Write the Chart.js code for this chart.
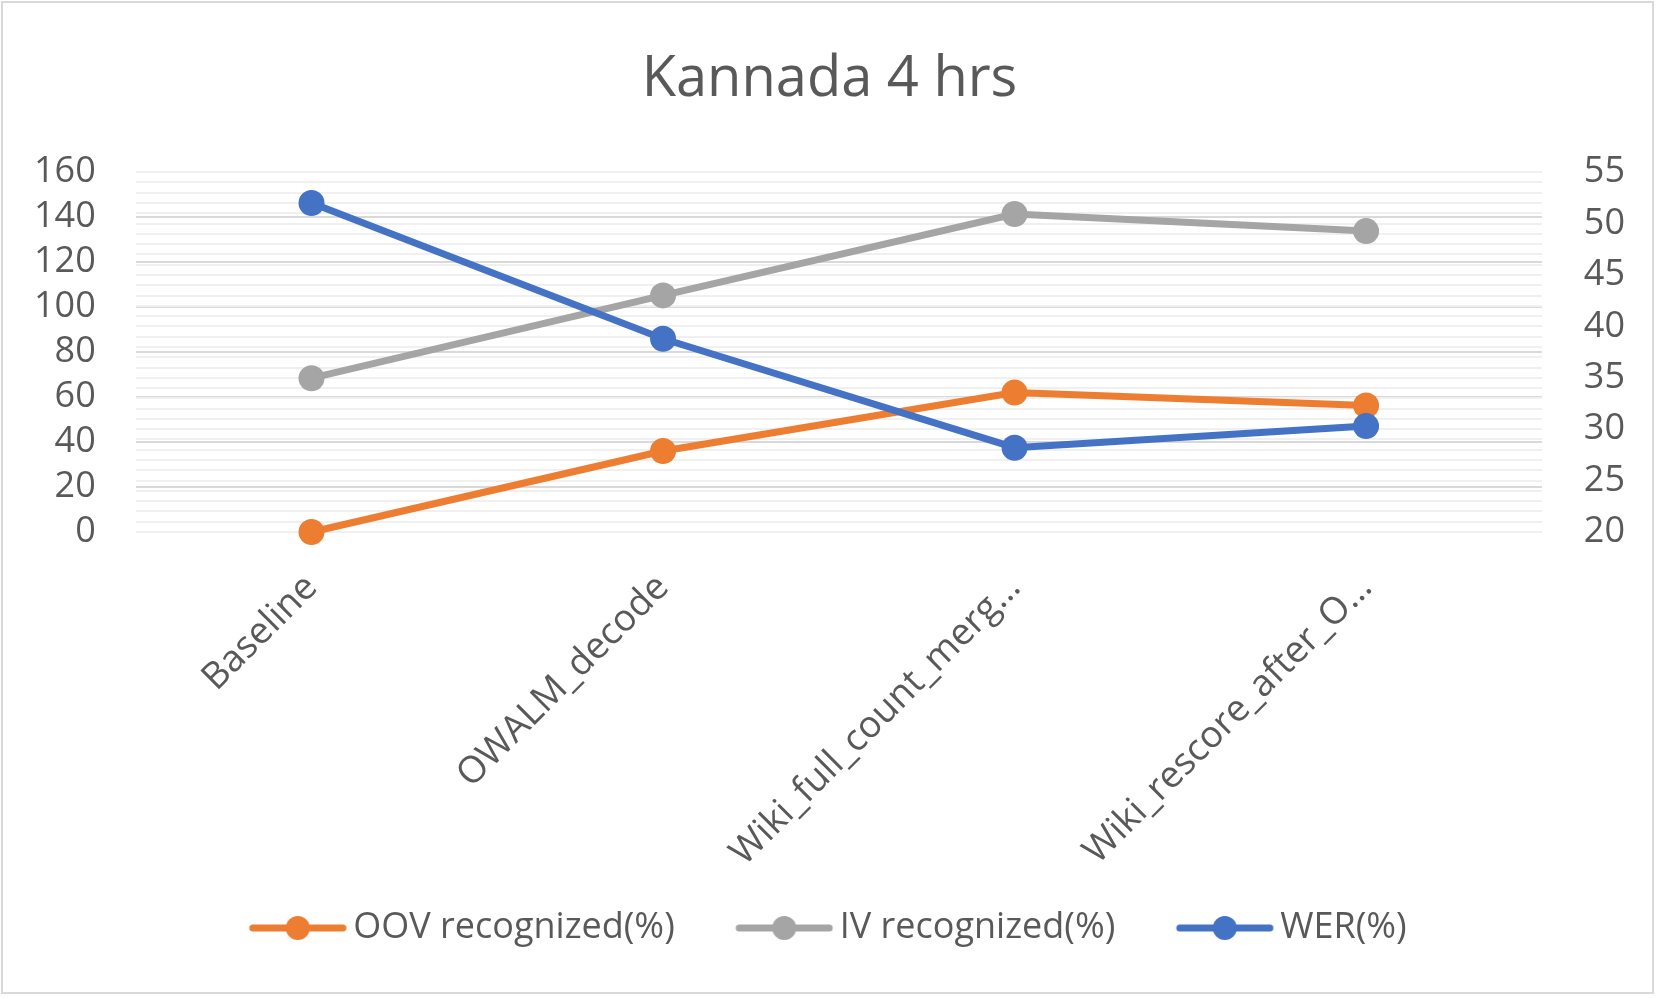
<!DOCTYPE html>
<html>
<head>
<meta charset="utf-8">
<script src="https://cdn.jsdelivr.net/npm/chart.js@4.4.1/dist/chart.umd.min.js"></script>
<style>
  html, body { margin: 0; padding: 0; background: #fff; }
  #box {
    position: absolute; left: 1px; top: 1px;
    width: 1649px; height: 989px;
    border: 2px solid #d9d9d9;
  }
</style>
</head>
<body>
<div id="box"><canvas id="chart"></canvas></div>
<script>
const categories = ["Baseline", "OWALM_decode", "Wiki_full_count_merg\u2026", "Wiki_rescore_after_O\u2026"];
const oovRecognized = [0, 36, 62, 56.3];
const ivRecognized = [68.4, 105.2, 141.4, 133.8];
const wer = [52, 38.8, 28.2, 30.3];
const leftTicks = [0, 20, 40, 60, 80, 100, 120, 140, 160];
const rightTicks = [20, 25, 30, 35, 40, 45, 50, 55];

const textColor = "#595959";
const font = "'Open Sans', sans-serif";

// legend symbol: short line with a dot, shifted right inside the image
// so the gap to the label text stays small
function legendSymbol(color) {
  const c = document.createElement("canvas");
  c.width = 130;
  c.height = 28;
  const g = c.getContext("2d");
  g.strokeStyle = color;
  g.lineWidth = 7;
  g.lineCap = "round";
  g.beginPath();
  g.moveTo(36, 14);
  g.lineTo(126, 14);
  g.stroke();
  g.fillStyle = color;
  g.beginPath();
  g.arc(81, 14, 12, 0, Math.PI * 2);
  g.fill();
  return c;
}

const colors = ["#ED7D31", "#A5A5A5", "#4472C4"];
const symbols = colors.map(legendSymbol);

function series(label, data, color, axis, order) {
  return {
    label: label,
    data: data,
    yAxisID: axis,
    order: order,
    borderColor: color,
    backgroundColor: color,
    pointBackgroundColor: color,
    pointBorderColor: color,
    borderWidth: 7,
    pointRadius: 13,
    pointBorderWidth: 0,
    tension: 0,
    fill: false,
    clip: false,
  };
}

// the empty part at the left of the first symbol pushes the legend right
const legendShift = {
  id: "legendShift",
  afterLayout(chart) {
    chart.legend.left -= 12;
    chart.legend.right -= 12;
  },
};

let ctx = document.getElementById("chart").getContext("2d");
const myChart = new Chart(ctx, {
  type: "line",
  data: {
    labels: categories,
    datasets: [
      series("OOV recognized(%)", oovRecognized, colors[0], "y", 3),
      series("IV recognized(%)", ivRecognized, colors[1], "y", 2),
      series("WER(%)", wer, colors[2], "y1", 1),
    ],
  },
  plugins: [legendShift],
  options: {
    responsive: true,
    maintainAspectRatio: false,
    animation: false,
    layout: {
      padding: { left: 31, right: 27, top: 0, bottom: 36 },
    },
    plugins: {
      title: {
        display: true,
        text: "Kannada 4 hrs",
        color: textColor,
        font: { family: font, size: 56, weight: "normal" },
        padding: { top: 43, bottom: 59 },
      },
      legend: {
        position: "bottom",
        labels: {
          color: textColor,
          font: { family: font, size: 36 },
          usePointStyle: true,
          pointStyleWidth: 107,
          padding: 40,
          sort: (a, b) => a.datasetIndex - b.datasetIndex,
          generateLabels: (chart) => {
            const items = Chart.defaults.plugins.legend.labels.generateLabels(chart);
            items.forEach((item) => {
              item.pointStyle = symbols[item.datasetIndex];
            });
            return items;
          },
        },
      },
      tooltip: { enabled: false },
    },
    scales: {
      x: {
        offset: true,
        grid: { display: false, drawTicks: false },
        border: { display: false },
        ticks: {
          color: textColor,
          font: { family: font, size: 37 },
          maxRotation: 45,
          minRotation: 45,
          padding: 34,
          autoSkip: false,
        },
        afterFit: (scale) => {
          scale.height = 338;
          scale.paddingLeft = 0;
          scale.paddingRight = 0;
        },
      },
      y: {
        position: "left",
        min: 0,
        max: 160,
        afterBuildTicks: (scale) => {
          scale.ticks = leftTicks.map((v) => ({ value: v }));
        },
        afterFit: (scale) => {
          scale.width -= 40;
        },
        grid: { color: "#d9d9d9", lineWidth: 2, drawTicks: false },
        border: { display: false },
        ticks: {
          autoSkip: false,
          color: textColor,
          font: { family: font, size: 36 },
          padding: 40,
        },
      },
      y1: {
        position: "right",
        min: 20,
        max: 55,
        z: -1,
        afterFit: (scale) => {
          scale.width -= 42;
        },
        grid: { color: "#f0f0f0", lineWidth: 2, drawTicks: false },
        border: { display: false },
        ticks: {
          stepSize: 1,
          autoSkip: false,
          color: textColor,
          font: { family: font, size: 36 },
          padding: 42,
          callback: (v) => (rightTicks.includes(v) ? String(v) : ""),
        },
      },
    },
  },
});
</script>
</body>
</html>
